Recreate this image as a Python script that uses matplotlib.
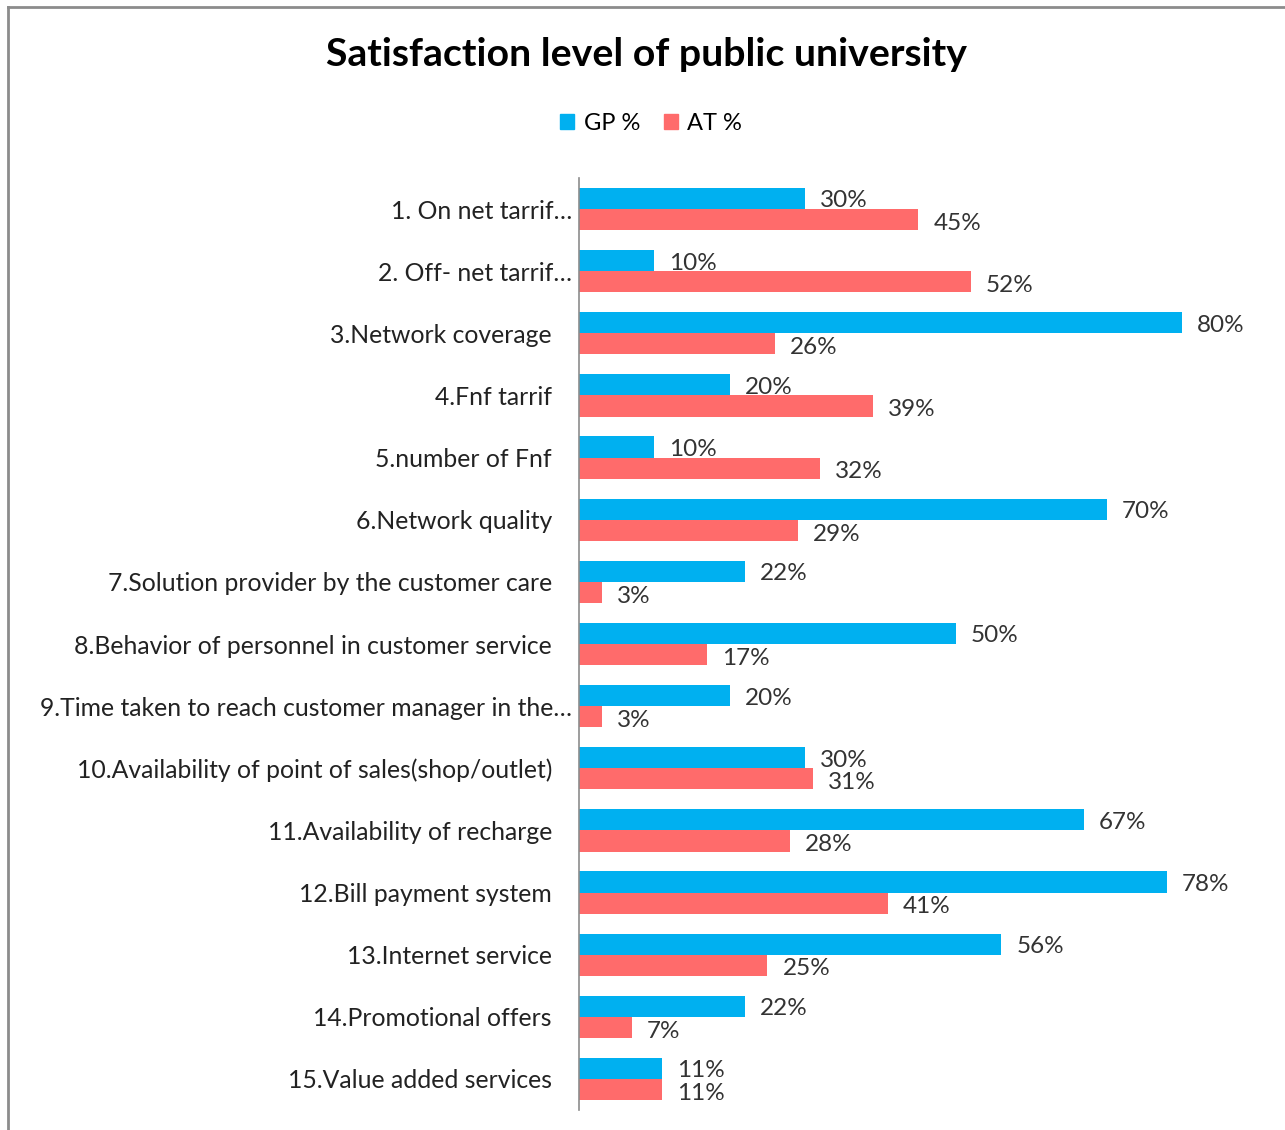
import matplotlib.pyplot as plt
from matplotlib.lines import Line2D
from matplotlib.patches import Patch
from matplotlib.transforms import ScaledTranslation

plt.rcParams["font.family"] = ["Lato", "DejaVu Sans"]

categories = [
    "1. On net tarrif…",
    "2. Off- net tarrif…",
    "3.Network coverage",
    "4.Fnf tarrif",
    "5.number of Fnf",
    "6.Network quality",
    "7.Solution provider by the customer care",
    "8.Behavior of personnel in customer service",
    "9.Time taken to reach customer manager in the…",
    "10.Availability of point of sales(shop/outlet)",
    "11.Availability of recharge",
    "12.Bill payment system",
    "13.Internet service",
    "14.Promotional offers",
    "15.Value added services",
]
gp = [30, 10, 80, 20, 10, 70, 22, 50, 20, 30, 67, 78, 56, 22, 11]
at = [45, 52, 26, 39, 32, 29, 3, 17, 3, 31, 28, 41, 25, 7, 11]

GP_COLOR = "#00B0F0"
AT_COLOR = "#FF6B6B"

fig = plt.figure(figsize=(12.85, 11.3), dpi=100)
ax = fig.add_axes([579 / 1285, 1 - 1110 / 1130, 686 / 1285, 932 / 1130])

h = 0.34
ys = list(range(len(categories)))
ax.barh([y - h / 2 for y in ys], gp, height=h, color=GP_COLOR)
ax.barh([y + h / 2 for y in ys], at, height=h, color=AT_COLOR)

for y, g, a in zip(ys, gp, at):
    ax.text(g + 2, y - h / 2 + 0.04, f"{g}%", va="center", ha="left",
            fontsize=17.5, color="#333333")
    ax.text(a + 2, y + h / 2 + 0.06, f"{a}%", va="center", ha="left",
            fontsize=17.5, color="#333333")

ax.set_xlim(0, 91)
ax.set_ylim(len(categories) - 0.5, -0.5)
ax.set_yticks(ys)
ax.set_yticklabels(categories, fontsize=17.8, color="#222222")
ax.tick_params(axis="y", length=0, pad=19.5)
ax.set_xticks([])
for side in ("top", "right", "bottom"):
    ax.spines[side].set_visible(False)
ax.spines["left"].set_color("#8c8c8c")
ax.spines["left"].set_linewidth(1.2)

# shortened labels sit closer to the axis
shift = ScaledTranslation(0.2, 0, fig.dpi_scale_trans)
for lbl in ax.get_yticklabels():
    if lbl.get_text().endswith("…"):
        lbl.set_transform(lbl.get_transform() + shift)

fig.text(0.503, 1 - 55 / 1130, "Satisfaction level of public university",
         ha="center", va="center", fontsize=28.3, fontweight="bold")

handles = [Patch(color=GP_COLOR), Patch(color=AT_COLOR)]
fig.legend(handles, ["GP %", "AT %"], loc="center", ncol=2,
           bbox_to_anchor=(651 / 1285, 1 - 123 / 1130), frameon=False,
           fontsize=17, handlelength=0.6, handleheight=0.6,
           handletextpad=0.4, columnspacing=1.0)

# chart frame (left and top edges)
fig.add_artist(Line2D([8 / 1285, 8 / 1285], [0, 1 - 7 / 1130],
                      transform=fig.transFigure, color="#8c8c8c", lw=2))
fig.add_artist(Line2D([8 / 1285, 1], [1 - 7 / 1130, 1 - 7 / 1130],
                      transform=fig.transFigure, color="#8c8c8c", lw=2))

fig.savefig("out.png", dpi=100)
